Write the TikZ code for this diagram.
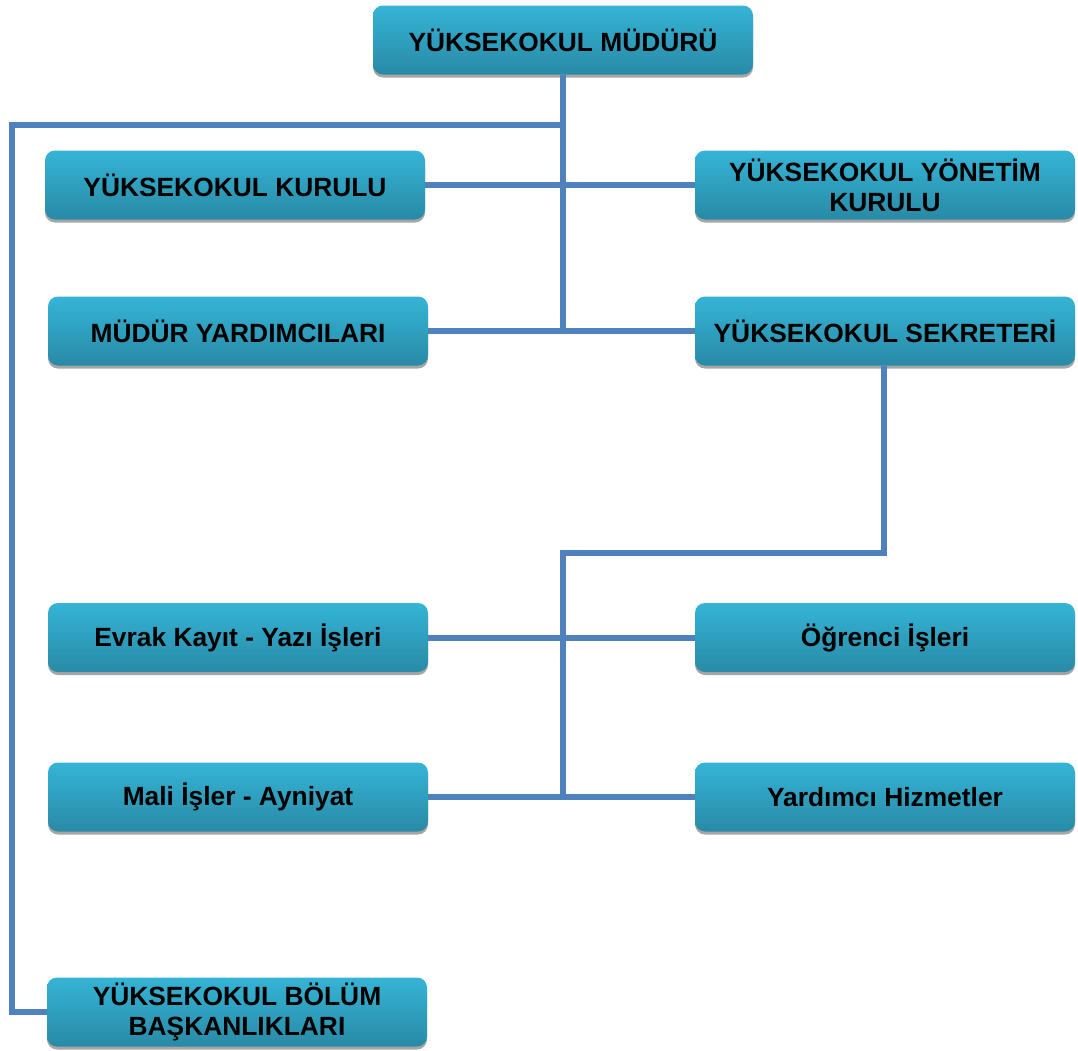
\documentclass[tikz,border=0pt]{standalone}
\usepackage{fontspec}
\setmainfont{Liberation Sans}
\usepackage{tikz}
\usetikzlibrary{positioning, shadows, calc}
\definecolor{boxtop}{RGB}{53, 180, 214}
\definecolor{boxbottom}{RGB}{40, 138, 166}
\definecolor{linkblue}{RGB}{79, 129, 189}

\begin{document}
\begin{tikzpicture}[
    unit/.style={rounded corners=0.2cm, minimum width=7.6cm, minimum height=1.38cm,
                 top color=boxtop, bottom color=boxbottom, align=center, inner sep=2pt,
                 font=\fontsize{15}{17}\selectfont\bfseries,
                 drop shadow={shadow xshift=0pt, shadow yshift=-0.06cm, fill=gray!70, opacity=1}},
    conn/.style={linkblue, line width=0.12cm}
]
    \useasboundingbox (0,0) rectangle (21.56,-21);

    \node[unit] (mudur) at (11.26,-0.8) {YÜKSEKOKUL MÜDÜRÜ};

    \node[unit] (kurul) at (4.7,-3.7) {YÜKSEKOKUL KURULU};
    \node[unit] (ykurul) at (17.7,-3.7) {YÜKSEKOKUL YÖNETİM\\KURULU};
    \node[unit] (yard) at (4.76,-6.62) {MÜDÜR YARDIMCILARI};
    \node[unit] (sekr) at (17.7,-6.62) {YÜKSEKOKUL SEKRETERİ};

    \node[unit] (evrak) at (4.76,-12.75) {Evrak Kayıt - Yazı İşleri};
    \node[unit] (ogr) at (17.7,-12.75) {Öğrenci İşleri};
    \node[unit] (mali) at (4.76,-15.94) {Mali İşler - Ayniyat};
    \node[unit] (yhiz) at (17.7,-15.94) {Yardımcı Hizmetler};

    \node[unit] (bolum) at (4.74,-20.24) {YÜKSEKOKUL BÖLÜM\\BAŞKANLIKLARI};

    \coordinate (rail) at (0.24,-2.5);
    \coordinate (split) at (11.26,-11.06);

    % upper part
    \draw[conn] (mudur.south) -- (mudur.south |- yard.east);
    \draw[conn] (kurul.east) -- (ykurul.west);
    \draw[conn] (yard.east) -- (sekr.west);
    \draw[conn] (mudur.south |- rail) -- (rail) |- (bolum.west);

    % secretary units
    \draw[conn] ([xshift=-0.02cm]sekr.south) |- (split) -- (split |- mali.east);
    \draw[conn] (evrak.east) -- (ogr.west);
    \draw[conn] (mali.east) -- (yhiz.west);
\end{tikzpicture}
\end{document}
